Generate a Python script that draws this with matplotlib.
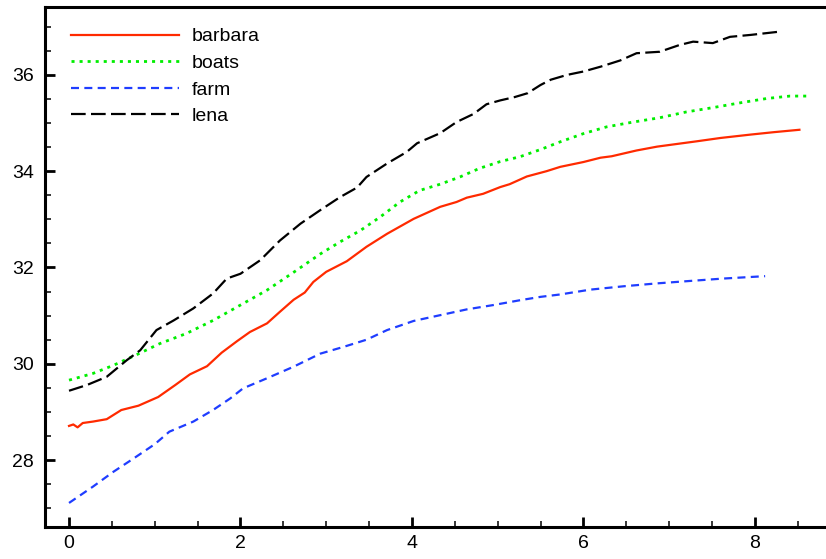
import matplotlib
matplotlib.use("Agg")
import matplotlib.pyplot as plt
from matplotlib.ticker import MultipleLocator

plt.rcParams['font.family'] = ['Liberation Sans', 'DejaVu Sans']

# PSNR curves per test image
barbara_x = [0.00, 0.05, 0.10, 0.16, 0.28, 0.44, 0.61, 0.81, 1.04, 1.24, 1.41, 1.61, 1.78,
             1.96, 2.11, 2.31, 2.46, 2.62, 2.75, 2.85, 3.00, 3.24, 3.47, 3.71, 4.02, 4.33,
             4.52, 4.64, 4.83, 5.03, 5.14, 5.34, 5.57, 5.73, 6.00, 6.20, 6.33, 6.62, 6.86,
             7.32, 7.60, 7.95, 8.22, 8.52]
barbara_y = [28.71, 28.74, 28.68, 28.77, 28.80, 28.85, 29.04, 29.13, 29.31, 29.56, 29.78, 29.95, 30.23,
             30.47, 30.66, 30.84, 31.08, 31.33, 31.48, 31.70, 31.91, 32.13, 32.43, 32.70, 33.01, 33.26,
             33.36, 33.45, 33.53, 33.67, 33.73, 33.89, 34.00, 34.09, 34.19, 34.28, 34.31, 34.43, 34.51,
             34.62, 34.69, 34.76, 34.81, 34.86]

boats_x = [0.00, 0.28, 0.52, 0.79, 1.06, 1.37, 1.68, 2.00, 2.31, 2.62, 2.93, 3.16, 3.40, 3.63,
           3.86, 4.09, 4.33, 4.56, 4.79, 5.03, 5.26, 5.50, 5.73, 6.00, 6.27, 6.58, 6.89, 7.20,
           7.51, 7.83, 8.14, 8.41, 8.61]
boats_y = [29.66, 29.80, 29.97, 30.19, 30.42, 30.63, 30.90, 31.22, 31.53, 31.90, 32.28, 32.53, 32.77, 33.05,
           33.36, 33.60, 33.73, 33.88, 34.06, 34.20, 34.30, 34.45, 34.61, 34.78, 34.92, 35.02, 35.11, 35.23,
           35.32, 35.42, 35.51, 35.56, 35.56]

farm_x = [0.00, 0.28, 0.52, 0.75, 1.00, 1.17, 1.45, 1.68, 1.88, 2.03, 2.31, 2.62, 2.93, 3.20,
          3.47, 3.71, 4.02, 4.33, 4.64, 4.95, 5.26, 5.50, 5.73, 6.08, 6.47, 6.86, 7.24, 7.63, 8.12]
farm_y = [27.11, 27.45, 27.76, 28.03, 28.33, 28.59, 28.80, 29.04, 29.28, 29.49, 29.70, 29.94, 30.21, 30.35,
          30.50, 30.70, 30.89, 31.01, 31.13, 31.22, 31.32, 31.39, 31.44, 31.54, 31.61, 31.67, 31.72, 31.77, 31.82]

lena_x = [0.00, 0.21, 0.44, 0.67, 0.83, 1.02, 1.22, 1.45, 1.68, 1.84, 2.00, 2.23, 2.46, 2.70,
          2.93, 3.16, 3.36, 3.47, 3.71, 3.94, 4.06, 4.33, 4.52, 4.72, 4.87, 5.03, 5.20, 5.35,
          5.50, 5.62, 5.81, 6.00, 6.20, 6.43, 6.62, 6.89, 7.12, 7.28, 7.51, 7.71, 7.95, 8.30]
lena_y = [29.44, 29.56, 29.73, 30.07, 30.28, 30.70, 30.90, 31.15, 31.46, 31.77, 31.87, 32.15, 32.56, 32.91,
          33.19, 33.46, 33.66, 33.88, 34.16, 34.40, 34.58, 34.79, 35.02, 35.19, 35.39, 35.47, 35.54, 35.62,
          35.79, 35.90, 36.00, 36.07, 36.17, 36.30, 36.45, 36.48, 36.62, 36.69, 36.66, 36.79, 36.83, 36.90]

series_names = ['barbara', 'boats', 'farm', 'lena']

fig = plt.figure(figsize=(8.26, 5.59), dpi=100)
ax = fig.add_axes([0.0545, 0.0572, 0.9455, 0.9303])

ax.plot(barbara_x, barbara_y, color='#ff2a00', lw=1.6, ls='-', label=series_names[0])
ax.plot(boats_x, boats_y, color='#00ee00', lw=2.0, ls=(0, (1.1, 1.8)), label=series_names[1])
ax.plot(farm_x, farm_y, color='#1f3dff', lw=1.6, ls=(0, (3.6, 2.4)), label=series_names[2])
ax.plot(lena_x, lena_y, color='black', lw=1.6, ls=(0, (6.6, 2.4)), label=series_names[3])

ax.set_xlim(-0.28, 8.83)
ax.set_ylim(26.61, 37.41)

ax.xaxis.set_major_locator(MultipleLocator(2))
ax.xaxis.set_minor_locator(MultipleLocator(0.5))
ax.yaxis.set_major_locator(MultipleLocator(2))
ax.yaxis.set_minor_locator(MultipleLocator(0.5))

ax.tick_params(which='both', direction='in', top=False, right=False, labelsize=14)
ax.tick_params(which='major', length=7.5, width=2.0)
ax.tick_params(which='minor', length=4.5, width=1.1)
ax.tick_params(axis='y', which='major', pad=8)
ax.tick_params(axis='x', which='major', pad=6)

for side in ['left', 'bottom', 'top']:
    ax.spines[side].set_linewidth(2.2)
ax.spines['right'].set_visible(False)

leg = ax.legend(loc='upper left', frameon=False, fontsize=14, handlelength=5.55,
                handletextpad=0.67, labelspacing=0.46, borderaxespad=0.0, borderpad=0.0,
                bbox_to_anchor=(26 / 781, 0.960))

fig.savefig('out.png', dpi=100)
